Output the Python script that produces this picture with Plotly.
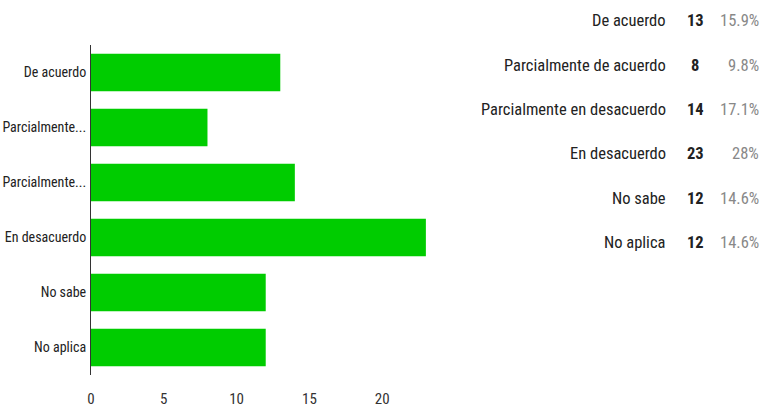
import plotly.graph_objects as go

categories = ["De acuerdo", "Parcialmente de acuerdo", "Parcialmente en desacuerdo",
              "En desacuerdo", "No sabe", "No aplica"]
tick_labels = ["De acuerdo", "Parcialmente...", "Parcialmente...",
               "En desacuerdo", "No sabe", "No aplica"]
counts = [13, 8, 14, 23, 12, 12]
percents = ["15.9%", "9.8%", "17.1%", "28%", "14.6%", "14.6%"]
x_ticks = [0, 5, 10, 15, 20]

FONT = "Roboto Condensed, Liberation Sans, sans-serif"
W, H = 763, 409
ML, MR, MT, MB = 91, 0, 45, 34
pw = W - ML - MR
ph = H - MT - MB

fig = go.Figure()
fig.add_trace(go.Bar(
    y=categories, x=counts, orientation="h",
    marker=dict(color="#00cc00", line=dict(width=0)),
    hoverinfo="x+y",
))

def px_to_paper_x(px):
    return (px - ML) / pw

def py_to_paper_y(py):
    return (H - MB - py) / ph

annotations = []
for i, (cat, c, p) in enumerate(zip(categories, counts, percents)):
    py = 21 + 44.3 * i
    yp = py_to_paper_y(py)
    annotations.append(dict(x=px_to_paper_x(668), y=yp, xref="paper", yref="paper",
                            text=cat, showarrow=False, xanchor="right", yanchor="middle",
                            font=dict(family=FONT, size=16.5, color="#222222")))
    annotations.append(dict(x=px_to_paper_x(695), y=yp, xref="paper", yref="paper",
                            text="<b>%d</b>" % c, showarrow=False, xanchor="center", yanchor="middle",
                            font=dict(family=FONT, size=16.5, color="#222222")))
    annotations.append(dict(x=px_to_paper_x(761), y=yp, xref="paper", yref="paper",
                            text=p, showarrow=False, xanchor="right", yanchor="middle",
                            font=dict(family=FONT, size=16.5, color="#888888")))

fig.update_layout(
    width=W, height=H,
    margin=dict(l=ML, r=MR, t=MT, b=MB, pad=0, autoexpand=False),
    paper_bgcolor="white", plot_bgcolor="white",
    showlegend=False,
    bargap=0.32,
    font=dict(family=FONT, size=14, color="#222222"),
    xaxis=dict(domain=[0, 364 / pw], range=[0, 25], tickvals=x_ticks,
               showgrid=False, zeroline=False, showline=False, ticks="",
               ticklabelstandoff=13, automargin=False,
               tickfont=dict(family=FONT, size=15, color="#333333")),
    yaxis=dict(autorange="reversed", tickvals=categories, ticktext=tick_labels,
               showgrid=False, zeroline=False, showline=True, linecolor="#333333",
               linewidth=1, ticks="", ticklabelstandoff=1, automargin=False,
               tickfont=dict(family=FONT, size=14, color="#222222")),
    annotations=annotations,
)

fig.write_html("out.html")
